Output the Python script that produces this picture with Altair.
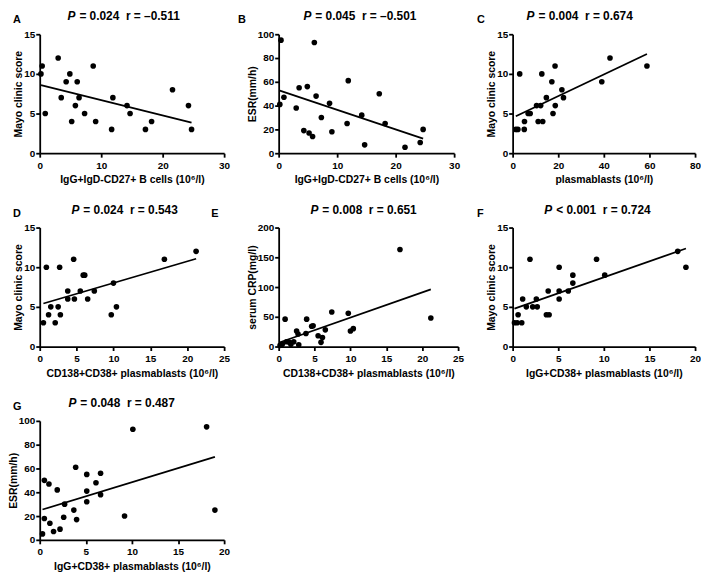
import altair as alt
import pandas as pd

FONT = "Liberation Sans, DejaVu Sans, sans-serif"

# ---- data ----
A_x = [0.2, 0.4, 0.9, 3.0, 3.5, 4.3, 4.9, 5.2, 5.8, 6.1, 6.4, 7.3, 8.7, 9.1, 11.7, 11.9, 14.2, 14.7, 17.2, 18.2, 21.6, 24.2, 24.7]
A_y = [10, 11, 5, 12, 7, 9, 10, 4, 6, 9, 7, 5, 11, 4, 3, 7, 6, 5, 3, 4, 8, 6, 3]

B_x = [0.2, 0.4, 0.9, 3.0, 3.5, 4.3, 4.9, 5.2, 5.8, 6.1, 6.4, 7.3, 8.7, 9.1, 11.7, 11.9, 14.2, 14.7, 17.2, 18.2, 21.6, 24.2, 24.7]
B_y = [41, 95, 47, 38, 55, 19, 56, 17, 14, 93, 48, 30, 42, 18, 25, 61, 32, 7, 50, 25, 5, 9, 20]

C_x = [1.4, 2.3, 3.1, 5.1, 5.2, 6.8, 7.7, 10.5, 11.2, 12.3, 12.8, 13.2, 14.8, 17.2, 17.7, 18.6, 18.7, 21.6, 22.3, 39.1, 42.7, 58.9]
C_y = [3, 3, 10, 3, 4, 5, 5, 6, 4, 6, 10, 4, 7, 9, 5, 11, 6, 8, 7, 9, 12, 11]

D_x = [0.5, 0.9, 1.2, 1.5, 2.1, 2.5, 2.7, 2.8, 3.8, 3.8, 4.6, 4.7, 5.5, 5.9, 6.1, 6.5, 7.4, 9.7, 10.0, 10.4, 16.9, 21.2]
D_y = [3, 10, 4, 5, 3, 5, 10, 4, 7, 6, 11, 6, 7, 9, 9, 6, 7, 4, 8, 5, 11, 12]

E_x = [0.2, 0.5, 0.9, 1.1, 1.5, 1.7, 2.1, 2.5, 2.7, 2.8, 3.8, 3.9, 4.6, 4.8, 5.5, 5.9, 6.1, 6.5, 7.4, 9.7, 10.0, 10.4, 16.9, 21.2]
E_y = [2, 4, 46, 8, 7, 4, 8, 26, 21, 3, 22, 46, 34, 35, 18, 7, 15, 28, 58, 56, 26, 30, 163, 48]

F_x = [0.2, 0.5, 0.6, 1.0, 1.1, 1.5, 1.9, 2.2, 2.6, 2.7, 3.7, 3.9, 4.0, 5.1, 5.1, 5.1, 6.1, 6.6, 6.6, 9.2, 10.1, 18.1, 19.0]
F_y = [3, 3, 4, 3, 6, 5, 11, 5, 6, 5, 4, 7, 4, 10, 7, 6, 7, 9, 8, 11, 9, 12, 10]

G_x = [0.3, 0.5, 0.5, 1.0, 1.1, 1.5, 1.9, 2.2, 2.6, 2.7, 3.7, 3.9, 4.0, 5.1, 5.1, 5.1, 6.1, 6.6, 6.6, 9.2, 10.1, 18.1, 19.0]
G_y = [5, 50, 18, 47, 14, 7, 42, 9, 19, 30, 25, 61, 17, 55, 41, 32, 48, 56, 38, 20, 93, 95, 25]

letters = ["A", "B", "C", "D", "E", "F", "G"]
stats = [
    "=\u00a00.024\u00a0\u00a0r\u00a0=\u00a0\u20130.511",
    "=\u00a00.045\u00a0\u00a0r\u00a0=\u00a0\u20130.501",
    "=\u00a00.004\u00a0\u00a0r\u00a0=\u00a00.674",
    "=\u00a00.024\u00a0\u00a0r\u00a0=\u00a00.543",
    "=\u00a00.008\u00a0\u00a0r\u00a0=\u00a00.651",
    "<\u00a00.001\u00a0\u00a0r\u00a0=\u00a00.724",
    "=\u00a00.048\u00a0\u00a0r\u00a0=\u00a00.487",
]
x_titles = [
    "IgG+IgD-CD27+ B cells (10\u2076/l)",
    "IgG+IgD-CD27+ B cells (10\u2076/l)",
    "plasmablasts (10\u2076/l)",
    "CD138+CD38+ plasmablasts (10\u2076/l)",
    "CD138+CD38+ plasmablasts (10\u2076/l)",
    "IgG+CD38+ plasmablasts (10\u2076/l)",
    "IgG+CD38+ plasmablasts (10\u2076/l)",
]
y_titles = ["Mayo clinic score", "ESR(mm/h)", "Mayo clinic score", "Mayo clinic score",
            "serum CRP(mg/l)", "Mayo clinic score", "ESR(mm/h)"]
x_ticks = [[0, 10, 20, 30], [0, 10, 20, 30], [0, 20, 40, 60, 80], [0, 5, 10, 15, 20, 25],
           [0, 5, 10, 15, 20, 25], [0, 5, 10, 15, 20], [0, 5, 10, 15, 20]]
y_ticks = [[0, 5, 10, 15], [0, 20, 40, 60, 80, 100], [0, 5, 10, 15], [0, 5, 10, 15],
           [0, 50, 100, 150, 200], [0, 5, 10, 15], [0, 20, 40, 60, 80, 100]]

H = 120
one = pd.DataFrame({"a": [0]})


def panel(i, xs, ys, w, px, lx):
    df = pd.DataFrame({"x": xs, "y": ys})
    xt, yt = x_ticks[i], y_ticks[i]
    xenc = alt.X("x:Q", scale=alt.Scale(domain=[xt[0], xt[-1]], nice=False, zero=False),
                 axis=alt.Axis(values=xt, title=x_titles[i]))
    yenc = alt.Y("y:Q", scale=alt.Scale(domain=[yt[0], yt[-1]], nice=False, zero=False),
                 axis=alt.Axis(values=yt, title=y_titles[i]))
    pts = alt.Chart(df).mark_circle(size=32, color="black", opacity=1).encode(x=xenc, y=yenc)
    line = alt.Chart(df).transform_regression("x", "y").mark_line(
        color="black", strokeWidth=1.8).encode(x=xenc, y=yenc)
    ptxt = alt.Chart(one).mark_text(text="P", font=FONT, fontSize=12, fontStyle="italic",
                                    fontWeight="bold", align="right", baseline="alphabetic",
                                    color="black").encode(x=alt.value(px), y=alt.value(-14))
    rest = alt.Chart(one).mark_text(text=stats[i], font=FONT, fontSize=12, fontWeight="bold",
                                    align="left", baseline="alphabetic",
                                    color="black").encode(x=alt.value(px + 4), y=alt.value(-14))
    let = alt.Chart(one).mark_text(text=letters[i], font=FONT, fontSize=11, fontWeight="bold",
                                   align="left", baseline="alphabetic",
                                   color="black").encode(x=alt.value(lx), y=alt.value(-11))
    return alt.layer(pts, line, ptxt, rest, let).properties(width=w, height=H)


pA = panel(0, A_x, A_y, 186, 36, -27)
pB = panel(1, B_x, B_y, 177, 33, -41)
pC = panel(2, C_x, C_y, 184, 22, -36)
pD = panel(3, D_x, D_y, 186, 40, -27)
pE = panel(4, E_x, E_y, 181, 40, -68)
pF = panel(5, F_x, F_y, 184, 40, -36)
pG = panel(6, G_x, G_y, 186, 37, -27)

chart = alt.concat(pA, pB, pC, pD, pE, pF, pG, columns=3,
                   spacing={"row": 75, "column": 55}, bounds="flush").properties(
    padding=0
).configure_view(stroke=None).configure_axis(
    domainColor="black", domainWidth=1.8, tickColor="black", tickWidth=1.8, tickSize=4,
    labelFont=FONT, labelFontSize=10, labelFontWeight="bold", labelColor="black",
    titleFont=FONT, titleFontSize=10.5, titleFontWeight="bold", titleColor="black",
    grid=False, labelFlush=False, labelOverlap=False
).configure_axisX(labelPadding=3, titlePadding=5).configure_axisY(labelPadding=1, titlePadding=0)

chart.save("out.html", embed_options={"renderer": "svg", "actions": False})
